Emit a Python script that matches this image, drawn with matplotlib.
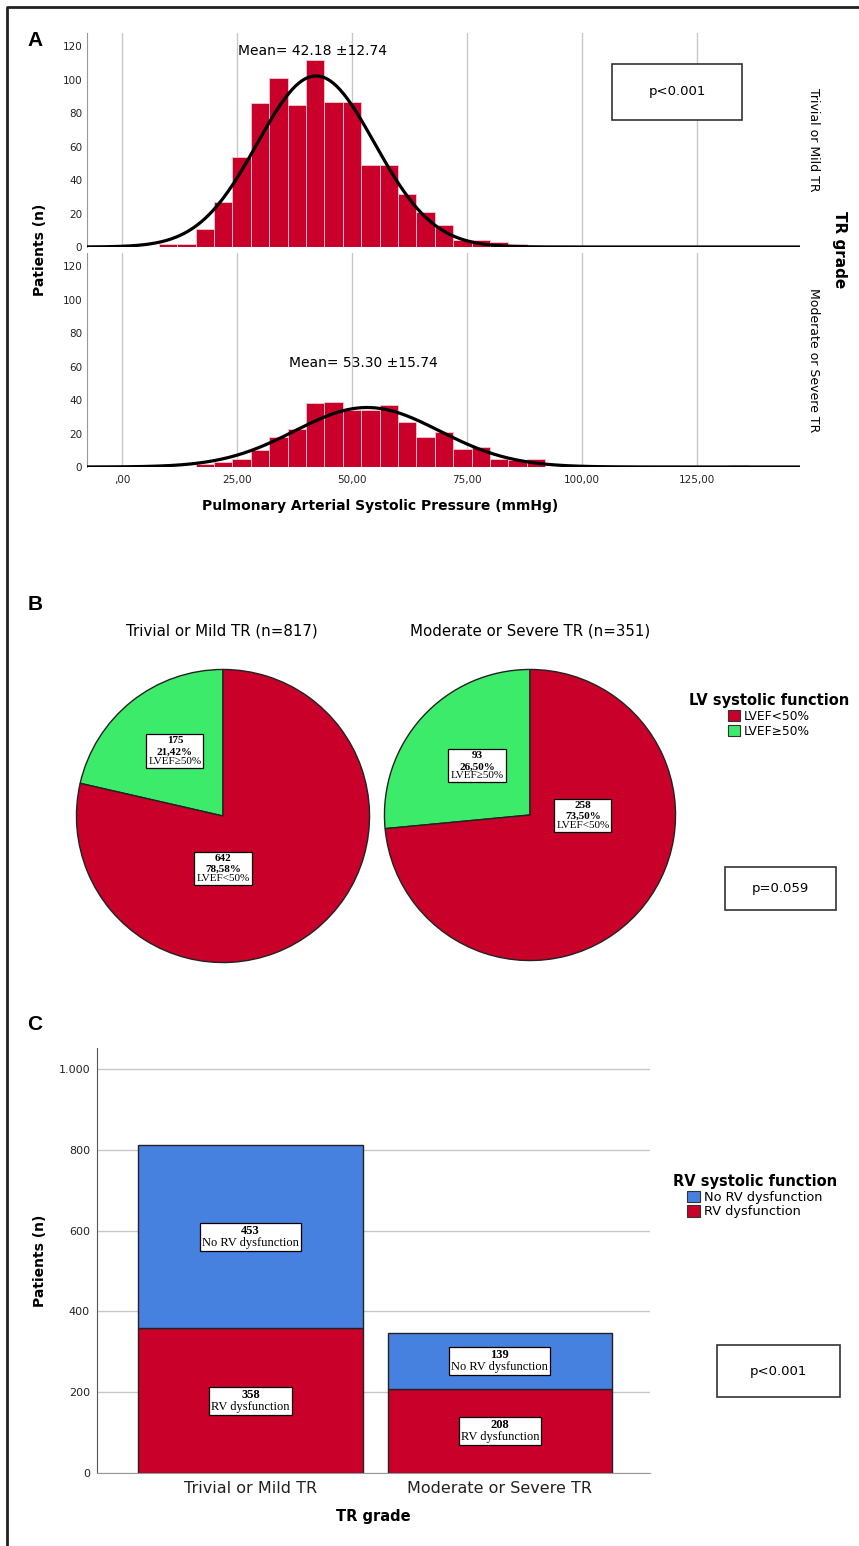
import numpy as np
import matplotlib
matplotlib.use('Agg')
import matplotlib.pyplot as plt
from matplotlib.patches import Patch, Rectangle
from matplotlib.lines import Line2D
from matplotlib.transforms import offset_copy

plt.rcParams['font.family'] = ['DejaVu Sans']

W, H = 859, 1546

# panel A: PASP histograms (bin width 4 mmHg)
bin_width = 4
mild_start = 8
mild_counts = [2, 2, 11, 27, 54, 86, 101, 85, 112, 87, 87, 49, 49, 32, 21, 13, 4, 4, 3, 2]
mod_start = 16
mod_counts = [2, 3, 5, 10, 18, 23, 38, 39, 34, 34, 37, 27, 18, 21, 11, 12, 5, 4, 5,
              0, 0, 0, 0, 0, 0, 0, 0, 0, 0, 1]
mild_n, mild_mean, mild_sd = 817, 42.18, 12.74
mod_n, mod_mean, mod_sd = 351, 53.30, 15.74
pasp_ticks = [0, 25, 50, 75, 100, 125]
pasp_labels = [',00', '25,00', '50,00', '75,00', '100,00', '125,00']

# panel B: LV systolic function
lv_groups = ['Trivial or Mild TR (n=817)', 'Moderate or Severe TR (n=351)']
lv_preserved = [175, 93]
lv_reduced = [642, 258]
lv_preserved_pct = ['21,42%', '26,50%']
lv_reduced_pct = ['78,58%', '73,50%']

# panel C: RV systolic function
tr_groups = ['Trivial or Mild TR', 'Moderate or Severe TR']
rv_dysf = [358, 208]
rv_normal = [453, 139]

RED = '#c8002a'
GREEN = '#3deb6b'
BLUE = '#4681e0'
GRID = '#c8c8c8'
SERIF = ['Liberation Serif', 'DejaVu Serif']


def fx(px):
    return px / W


def fy(py):
    return 1 - py / H


def ax_rect(l, t, r, b):
    return [fx(l), fy(b), (r - l) / W, (b - t) / H]


def pbox(l, t, r, b, txt, size=9.5):
    fig.patches.append(Rectangle((fx(l), fy(b)), (r - l) / W, (b - t) / H,
                                 transform=fig.transFigure, fc='white', ec='#333333', lw=1.2))
    fig.text(fx((l + r) / 2), fy((t + b) / 2), txt, ha='center', va='center', fontsize=size)


box_labels = []


def boxlabel(ax, x, y, bold_lines, normal_line, size=8, ls=1.3):
    lineh = size * 0.72 * ls
    nb = len(bold_lines)
    split = offset_copy(ax.transData, fig=fig, y=-(nb - 1) / 2 * lineh, units='points')
    t1 = ax.text(x, y, '\n'.join(bold_lines), ha='center', va='bottom', fontsize=size,
                 family=SERIF, weight='bold', linespacing=ls, transform=split, zorder=7)
    t2 = ax.text(x, y, normal_line, ha='center', va='top', fontsize=size, family=SERIF,
                 linespacing=ls, transform=split, zorder=7)
    box_labels.append((ax, t1, t2))


fig = plt.figure(figsize=(W / 100, H / 100), dpi=100)

# ---------------- panel A ----------------
xs = np.linspace(-8, 148, 600)
specs = [
    (ax_rect(87, 33, 800, 247), mild_start, mild_counts, mild_n, mild_mean, mild_sd,
     'Trivial or Mild TR', 0.918),
    (ax_rect(87, 253, 800, 467), mod_start, mod_counts, mod_n, mod_mean, mod_sd,
     'Moderate or Severe TR', 0.484),
]
axA = []
for rect, start, counts, n, mu, sd, grp, ty in specs:
    ax = fig.add_axes(rect)
    lefts = start + bin_width * np.arange(len(counts))
    ax.bar(lefts, counts, width=bin_width, align='edge', color=RED, edgecolor='#f3c9d2',
           linewidth=0.6, zorder=2)
    pdf = n * bin_width / (sd * np.sqrt(2 * np.pi)) * np.exp(-0.5 * ((xs - mu) / sd) ** 2)
    ax.plot(xs, pdf, color='black', lw=2.3, zorder=3, solid_capstyle='butt')
    ax.set_xlim(-7.6, 147.4)
    ax.set_ylim(0, 128)
    ax.set_yticks(range(0, 121, 20))
    ax.set_xticks(pasp_ticks)
    ax.grid(axis='x', color=GRID, lw=1, zorder=0)
    for s in ['top', 'right', 'bottom']:
        ax.spines[s].set_visible(False)
    ax.spines['left'].set_color('#999999')
    ax.tick_params(length=0, labelsize=7.5, colors='#222222')
    ax.text(mu - 0.8, ty, 'Mean= %.2f \u00b1%.2f' % (mu, sd), ha='center', va='center',
            fontsize=10, transform=ax.get_xaxis_transform())
    ax.text(1.01, 0.5, grp, transform=ax.transAxes, rotation=270, ha='left', va='center',
            fontsize=9)
    axA.append(ax)
axA[0].set_xticklabels([])
axA[1].set_xticklabels(pasp_labels)
axA[1].tick_params(axis='x', pad=6)

fig.text(fx(380), fy(506), 'Pulmonary Arterial Systolic Pressure (mmHg)', ha='center',
         va='center', fontsize=10, weight='bold')
fig.text(fx(40), fy(250), 'Patients (n)', rotation=90, ha='center', va='center',
         fontsize=10, weight='bold')
fig.text(fx(840), fy(250), 'TR grade', rotation=270, ha='center', va='center',
         fontsize=11, weight='bold')
pbox(612, 64, 742, 120, 'p<0.001')

# ---------------- panel B ----------------
pie_rects = [ax_rect(75, 668, 371, 964), ax_rect(383, 668, 677, 962)]
green_pos = [(-0.328, 0.441), (-0.364, 0.335)]
red_pos = [(0.0, -0.36), (0.363, -0.007)]
for i, rect in enumerate(pie_rects):
    ax = fig.add_axes(rect)
    ax.pie([lv_preserved[i], lv_reduced[i]], colors=[GREEN, RED], startangle=90,
           counterclock=True, radius=1,
           wedgeprops=dict(edgecolor='#222222', linewidth=1.0))
    ax.set_xlim(-1.01, 1.01)
    ax.set_ylim(-1.01, 1.01)
    ax.set_aspect('auto')
    boxlabel(ax, green_pos[i][0], green_pos[i][1],
             [str(lv_preserved[i]), lv_preserved_pct[i]], 'LVEF\u226550%')
    boxlabel(ax, red_pos[i][0], red_pos[i][1],
             [str(lv_reduced[i]), lv_reduced_pct[i]], 'LVEF<50%')
    fig.text(fx([222, 530][i]), fy(631), lv_groups[i], ha='center', va='center', fontsize=10.8)

fig.legend(handles=[Patch(fc=RED, ec='#333333', lw=0.8), Patch(fc=GREEN, ec='#333333', lw=0.8)],
           labels=['LVEF<50%', 'LVEF\u226550%'], loc='upper center',
           bbox_to_anchor=(fx(769), fy(687)), frameon=False, fontsize=8.8,
           title='LV systolic function', title_fontproperties={'weight': 'bold', 'size': 10.5},
           handlelength=1.0, handleheight=1.0, handletextpad=0.3, labelspacing=0.15,
           borderpad=0)
pbox(725, 867, 836, 910, 'p=0.059')

# ---------------- panel C ----------------
axC = fig.add_axes(ax_rect(97, 1048, 650, 1473))
xpos = np.arange(len(tr_groups))
axC.bar(xpos, rv_dysf, width=0.9, color=RED, edgecolor='#222222', lw=1.0, zorder=2)
axC.bar(xpos, rv_normal, bottom=rv_dysf, width=0.9, color=BLUE, edgecolor='#222222', lw=1.0,
        zorder=2)
for i in range(len(tr_groups)):
    boxlabel(axC, xpos[i], rv_dysf[i] / 2, [str(rv_dysf[i])], 'RV dysfunction', size=9)
    boxlabel(axC, xpos[i], rv_dysf[i] + rv_normal[i] / 2, [str(rv_normal[i])],
             'No RV dysfunction', size=9)
axC.set_xlim(-0.616, 1.602)
axC.set_ylim(0, 1052)
axC.set_yticks([0, 200, 400, 600, 800, 1000])
axC.set_yticklabels(['0', '200', '400', '600', '800', '1.000'])
axC.set_xticks(xpos)
axC.set_xticklabels(tr_groups, fontsize=11.5)
axC.grid(axis='y', color=GRID, lw=1, zorder=0)
for s in ['top', 'right']:
    axC.spines[s].set_visible(False)
axC.spines['left'].set_color('#555555')
axC.spines['bottom'].set_color('#999999')
axC.tick_params(length=0, colors='#222222')
axC.tick_params(axis='y', labelsize=8, pad=5)
axC.tick_params(axis='x', pad=6)
axC.set_ylabel('Patients (n)', fontsize=10, weight='bold', labelpad=8)
axC.set_xlabel('TR grade', fontsize=10.5, weight='bold', labelpad=9)

fig.legend(handles=[Patch(fc=BLUE, ec='#333333', lw=0.8), Patch(fc=RED, ec='#333333', lw=0.8)],
           labels=['No RV dysfunction', 'RV dysfunction'], loc='upper center',
           bbox_to_anchor=(fx(755), fy(1168)), frameon=False, fontsize=9.3,
           title='RV systolic function', title_fontproperties={'weight': 'bold', 'size': 10.5},
           handlelength=1.0, handleheight=1.0, handletextpad=0.3, labelspacing=0.1,
           borderpad=0)
pbox(717, 1345, 840, 1397, 'p<0.001')

# panel letters and frame
for letter, py in [('A', 40), ('B', 605), ('C', 1025)]:
    fig.text(fx(35), fy(py), letter, ha='center', va='center', fontsize=15, weight='bold',
             family=['Liberation Sans', 'DejaVu Sans'])
fig.lines.append(Line2D([fx(7), fx(7), 1.0], [0.0, fy(7), fy(7)], transform=fig.transFigure,
                        color='#222222', lw=2))

# white boxes behind the value labels, sized from the rendered text
renderer = fig.canvas.get_renderer()
for ax, t1, t2 in box_labels:
    bb1 = t1.get_window_extent(renderer)
    bb2 = t2.get_window_extent(renderer)
    x0 = min(bb1.x0, bb2.x0) - 2
    x1 = max(bb1.x1, bb2.x1) + 2
    y0 = min(bb1.y0, bb2.y0) - 2
    y1 = max(bb1.y1, bb2.y1) + 2
    inv = ax.transData.inverted()
    (dx0, dy0), (dx1, dy1) = inv.transform([(x0, y0), (x1, y1)])
    ax.add_patch(Rectangle((dx0, dy0), dx1 - dx0, dy1 - dy0, fc='white', ec='black', lw=0.9,
                           zorder=6, clip_on=False))

fig.savefig('out.png', dpi=100)
